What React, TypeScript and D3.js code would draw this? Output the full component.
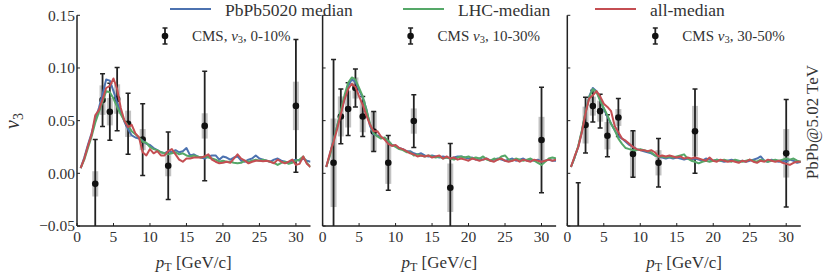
import React from 'react'
import * as d3 from 'd3'

// pT grid of the model curves [GeV/c]
const pT = [
  0.5, 1, 1.5, 2, 2.5, 3, 3.5, 4, 4.5, 5, 5.5, 6, 6.5, 7, 7.5, 8, 8.5, 9, 9.5, 10,
  10.5, 11, 11.5, 12, 12.5, 13, 13.5, 14, 14.5, 15, 15.5, 16, 16.5, 17, 17.5, 18,
  18.5, 19, 19.5, 20, 20.5, 21, 21.5, 22, 22.5, 23, 23.5, 24, 24.5, 25, 25.5, 26,
  26.5, 27, 27.5, 28, 28.5, 29, 29.5, 30, 30.5, 31, 31.5, 32,
]

// 0-10%
const pbpb010 = [
  0.005, 0.015, 0.027, 0.038, 0.051, 0.062, 0.075, 0.089, 0.088, 0.078, 0.067, 0.058, 0.049, 0.042, 0.036, 0.034,
  0.033, 0.031, 0.028, 0.027, 0.024, 0.022, 0.02, 0.019, 0.021, 0.02, 0.022, 0.02, 0.021, 0.024, 0.017, 0.018,
  0.016, 0.015, 0.014, 0.016, 0.017, 0.017, 0.013, 0.016, 0.015, 0.013, 0.015, 0.016, 0.012, 0.011, 0.013, 0.014,
  0.017, 0.014, 0.013, 0.012, 0.011, 0.013, 0.014, 0.012, 0.011, 0.01, 0.012, 0.013, 0.012, 0.014, 0.012, 0.011,
]
const lhc010 = [
  0.005, 0.013, 0.024, 0.035, 0.048, 0.058, 0.068, 0.078, 0.077, 0.071, 0.063, 0.056, 0.05, 0.045, 0.04, 0.037,
  0.034, 0.03, 0.029, 0.025, 0.023, 0.022, 0.02, 0.019, 0.018, 0.019, 0.02, 0.018, 0.019, 0.017, 0.016, 0.017,
  0.016, 0.015, 0.016, 0.015, 0.014, 0.013, 0.011, 0.012, 0.011, 0.011, 0.01, 0.0095, 0.01, 0.012, 0.011, 0.012,
  0.013, 0.012, 0.013, 0.012, 0.011, 0.01, 0.008, 0.01, 0.011, 0.009, 0.01, 0.012, 0.013, 0.016, 0.01, 0.006,
]
const all010 = [
  0.005, 0.014, 0.026, 0.037, 0.055, 0.06, 0.07, 0.081, 0.083, 0.09, 0.08, 0.062, 0.05, 0.044, 0.046, 0.038,
  0.034, 0.02, 0.017, 0.023, 0.019, 0.021, 0.017, 0.017, 0.021, 0.023, 0.018, 0.013, 0.011, 0.014, 0.014, 0.015,
  0.015, 0.015, 0.016, 0.018, 0.013, 0.011, 0.0095, 0.01, 0.011, 0.01, 0.014, 0.018, 0.014, 0.012, 0.0095, 0.011,
  0.012, 0.012, 0.0115, 0.012, 0.011, 0.0095, 0.013, 0.011, 0.0095, 0.011, 0.013, 0.008, 0.009, 0.016, 0.009, 0.006,
]

// 10-30%
const pbpb1030 = [
  0.006, 0.018, 0.032, 0.045, 0.058, 0.071, 0.083, 0.089, 0.087, 0.079, 0.072, 0.061, 0.045, 0.037, 0.036, 0.034,
  0.033, 0.03, 0.027, 0.026, 0.024, 0.023, 0.021, 0.021, 0.019, 0.018, 0.019, 0.017, 0.016, 0.017, 0.016, 0.015,
  0.016, 0.015, 0.014, 0.015, 0.016, 0.016, 0.015, 0.014, 0.015, 0.013, 0.014, 0.013, 0.014, 0.012, 0.013, 0.014,
  0.013, 0.012, 0.013, 0.014, 0.012, 0.013, 0.014, 0.012, 0.013, 0.012, 0.013, 0.011, 0.012, 0.013, 0.012, 0.012,
]
const lhc1030 = [
  0.006, 0.017, 0.031, 0.045, 0.06, 0.074, 0.086, 0.091, 0.089, 0.081, 0.073, 0.06, 0.047, 0.038, 0.035, 0.033,
  0.034, 0.031, 0.027, 0.025, 0.023, 0.022, 0.02, 0.02, 0.017, 0.018, 0.017, 0.016, 0.017, 0.016, 0.015, 0.016,
  0.014, 0.015, 0.014, 0.013, 0.015, 0.016, 0.015, 0.016, 0.014, 0.015, 0.014, 0.016, 0.013, 0.012, 0.014, 0.013,
  0.016, 0.017, 0.013, 0.012, 0.014, 0.013, 0.012, 0.013, 0.014, 0.012, 0.01, 0.008, 0.011, 0.014, 0.015, 0.014,
]
const all1030 = [
  0.006, 0.019, 0.03, 0.042, 0.056, 0.07, 0.08, 0.085, 0.082, 0.073, 0.065, 0.055, 0.046, 0.04, 0.04, 0.035,
  0.032, 0.028, 0.026, 0.027, 0.024, 0.023, 0.021, 0.019, 0.018, 0.016, 0.017, 0.016, 0.017, 0.015, 0.016, 0.017,
  0.014, 0.016, 0.014, 0.015, 0.013, 0.014, 0.013, 0.012, 0.014, 0.013, 0.012, 0.013, 0.014, 0.012, 0.011, 0.013,
  0.014, 0.012, 0.011, 0.012, 0.013, 0.011, 0.013, 0.012, 0.011, 0.013, 0.012, 0.011, 0.012, 0.013, 0.012, 0.013,
]

// 30-50%
const pbpb3050 = [
  0.006, 0.015, 0.025, 0.04, 0.058, 0.073, 0.081, 0.078, 0.07, 0.061, 0.054, 0.047, 0.041, 0.035, 0.033, 0.03,
  0.027, 0.025, 0.023, 0.022, 0.021, 0.02, 0.019, 0.017, 0.016, 0.015, 0.014, 0.015, 0.014, 0.015, 0.014, 0.013,
  0.014, 0.013, 0.014, 0.013, 0.012, 0.014, 0.013, 0.012, 0.013, 0.012, 0.011, 0.012, 0.013, 0.012, 0.011, 0.012,
  0.011, 0.012, 0.013, 0.014, 0.016, 0.012, 0.011, 0.013, 0.012, 0.011, 0.012, 0.011, 0.013, 0.012, 0.01, 0.011,
]
const lhc3050 = [
  0.006, 0.015, 0.026, 0.041, 0.058, 0.072, 0.08, 0.077, 0.069, 0.062, 0.055, 0.047, 0.041, 0.033, 0.028, 0.024,
  0.023, 0.022, 0.022, 0.023, 0.022, 0.021, 0.02, 0.017, 0.016, 0.016, 0.015, 0.016, 0.015, 0.016, 0.017, 0.018,
  0.014, 0.012, 0.011, 0.0095, 0.011, 0.012, 0.011, 0.012, 0.013, 0.012, 0.013, 0.012, 0.011, 0.013, 0.012, 0.011,
  0.012, 0.013, 0.012, 0.011, 0.013, 0.012, 0.011, 0.012, 0.013, 0.012, 0.013, 0.014, 0.013, 0.014, 0.012, 0.011,
]
const all3050 = [
  0.006, 0.016, 0.025, 0.039, 0.057, 0.071, 0.074, 0.078, 0.073, 0.066, 0.063, 0.059, 0.045, 0.039, 0.033, 0.031,
  0.028, 0.025, 0.023, 0.022, 0.022, 0.021, 0.022, 0.02, 0.016, 0.017, 0.016, 0.017, 0.016, 0.015, 0.016, 0.014,
  0.015, 0.014, 0.015, 0.014, 0.013, 0.012, 0.015, 0.012, 0.011, 0.013, 0.012, 0.011, 0.012, 0.011, 0.01, 0.012,
  0.011, 0.013, 0.011, 0.01, 0.012, 0.011, 0.013, 0.012, 0.011, 0.012, 0.01, 0.009, 0.008, 0.01, 0.011, 0.011,
]

// CMS data
const cmsPt010 = [2.5, 3.5, 4.5, 5.5, 7, 9, 12.5, 17.5, 30]
const cmsV010 = [-0.01, 0.0695, 0.0585, 0.0705, 0.047, 0.032, 0.0072, 0.045, 0.064]
const cmsStat010 = [0.042, 0.025, 0.027, 0.03, 0.029, 0.034, 0.032, 0.052, 0.063]
const cmsSys010 = [0.012, 0.014, 0.013, 0.014, 0.0125, 0.01, 0.01, 0.012, 0.023]

const cmsPt1030 = [1.5, 2.5, 3.5, 4.5, 5.5, 7, 9, 12.5, 17.5, 30]
const cmsV1030 = [0.01, 0.054, 0.061, 0.081, 0.054, 0.0397, 0.01, 0.0496, -0.0137, 0.0316]
const cmsStat1030 = [0.098, 0.026, 0.025, 0.018, 0.019, 0.019, 0.026, 0.025, 0.042, 0.05]
const cmsSys1030 = [0.042, 0.019, 0.0175, 0.01, 0.015, 0.019, 0.02, 0.012, 0.023, 0.022]

const cmsPt3050 = [1.5, 2.5, 3.5, 4.5, 5.5, 7, 9, 12.5, 17.5, 30]
const cmsV3050 = [-0.065, 0.0458, 0.0638, 0.059, 0.0357, 0.053, 0.0183, 0.01, 0.04, 0.019]
const cmsStat3050 = [0.056, 0.0265, 0.015, 0.016, 0.02, 0.018, 0.022, 0.023, 0.04, 0.051]
const cmsSys3050 = [0.01, 0.0175, 0.009, 0.01, 0.013, 0.008, 0.022, 0.012, 0.024, 0.023]

const centralityLabels = ['CMS, ', 'CMS ', 'CMS ']
const centralityRanges = ['0-10%', '10-30%', '30-50%']
const seriesNames = ['PbPb5020 median', 'LHC-median', 'all-median']
const colors = ['#4c72b0', '#55a868', '#c44e52']
const yTicks = [-0.05, 0, 0.05, 0.1, 0.15]
const xTicks = [0, 5, 10, 15, 20, 25, 30]

const panels = [
  { curves: [pbpb010, lhc010, all010], pt: cmsPt010, v: cmsV010, stat: cmsStat010, sys: cmsSys010 },
  { curves: [pbpb1030, lhc1030, all1030], pt: cmsPt1030, v: cmsV1030, stat: cmsStat1030, sys: cmsSys1030 },
  { curves: [pbpb3050, lhc3050, all3050], pt: cmsPt3050, v: cmsV3050, stat: cmsStat3050, sys: cmsSys3050 },
]

const W = 830
const H = 277
const panelLeft = [77, 322.6, 567.3]
const panelW = 233.5
const top = 15.3
const bottom = 226
const font = "'Liberation Serif', 'Times New Roman', serif"

const y = d3.scaleLinear().domain([-0.05, 0.15]).range([bottom, top])

const fmtY = (d: number) => (d < 0 ? '\u2212' : '') + Math.abs(d).toFixed(2)

const ErrMarker = ({ cx, cy }: { cx: number; cy: number }) => (
  <g>
    <line x1={cx} x2={cx} y1={cy - 8} y2={cy + 8} stroke="#222" strokeWidth={1.8} />
    <line x1={cx - 2.5} x2={cx + 2.5} y1={cy - 8} y2={cy - 8} stroke="#222" strokeWidth={1.5} />
    <line x1={cx - 2.5} x2={cx + 2.5} y1={cy + 8} y2={cy + 8} stroke="#222" strokeWidth={1.5} />
    <circle cx={cx} cy={cy} r={3.3} fill="#111" />
  </g>
)

const Panel = ({ idx }: { idx: number }) => {
  const p = panels[idx]
  const x0 = panelLeft[idx]
  const x = d3.scaleLinear().domain([0, 32]).range([x0, x0 + panelW])
  const line = d3
    .line<number>()
    .x((_, i) => x(pT[i]))
    .y((d) => y(d))
  const clipId = `clip${idx}`
  const legX = x(0) + 88
  return (
    <g>
      <defs>
        <clipPath id={clipId}>
          <rect x={x0} y={top - 5} width={panelW} height={bottom - top + 5} />
        </clipPath>
      </defs>
      <g clipPath={`url(#${clipId})`}>
        {p.pt.map((d, i) => (
          <rect
            key={'s' + i}
            x={x(d) - 3}
            width={6}
            y={y(p.v[i] + p.sys[i])}
            height={y(p.v[i] - p.sys[i]) - y(p.v[i] + p.sys[i])}
            fill="#9a9a9a"
            opacity={0.6}
          />
        ))}
        {p.pt.map((d, i) => (
          <g key={'e' + i} stroke="#222">
            <line x1={x(d)} x2={x(d)} y1={y(p.v[i] + p.stat[i])} y2={y(p.v[i] - p.stat[i])} strokeWidth={1.8} />
            <line x1={x(d) - 2.5} x2={x(d) + 2.5} y1={y(p.v[i] + p.stat[i])} y2={y(p.v[i] + p.stat[i])} strokeWidth={1.5} />
            <line x1={x(d) - 2.5} x2={x(d) + 2.5} y1={y(p.v[i] - p.stat[i])} y2={y(p.v[i] - p.stat[i])} strokeWidth={1.5} />
            <circle cx={x(d)} cy={y(p.v[i])} r={3.3} fill="#111" stroke="none" />
          </g>
        ))}
        {p.curves.map((c, k) => (
          <path key={'c' + k} d={line(c) || ''} fill="none" stroke={colors[k]} strokeWidth={2} strokeLinejoin="round" />
        ))}
      </g>
      {/* axes */}
      <line x1={x0} x2={x0} y1={top} y2={bottom} stroke="#222" strokeWidth={1.5} />
      <line x1={x0} x2={x0 + panelW} y1={bottom} y2={bottom} stroke="#222" strokeWidth={1.5} />
      {yTicks.map((t) => (
        <line key={'yt' + t} x1={x0} x2={x0 + 3} y1={y(t)} y2={y(t)} stroke="#222" strokeWidth={1} />
      ))}
      {xTicks.map((t) => (
        <g key={'xt' + t}>
          <line x1={x(t)} x2={x(t)} y1={bottom} y2={bottom - 3} stroke="#222" strokeWidth={1} />
          <text x={x(t)} y={242} textAnchor="middle" fontSize={15.5} fill="#333">
            {t}
          </text>
        </g>
      ))}
      {idx === 0 &&
        yTicks.map((t) => (
          <text key={'yl' + t} x={x0 - 2} y={y(t)} dy="0.34em" textAnchor="end" fontSize={15.5} fill="#333">
            {fmtY(t)}
          </text>
        ))}
      <text x={x0 + panelW / 2} y={268} textAnchor="middle" fontSize={17} fill="#333">
        <tspan fontStyle="italic">p</tspan>
        <tspan fontSize={12} dy={3}>T</tspan>
        <tspan dy={-3}> [GeV/c]</tspan>
      </text>
      <ErrMarker cx={legX} cy={36} />
      <text x={legX + 27} y={40.5} fontSize={15} fill="#333">
        {centralityLabels[idx]}
        <tspan fontStyle="italic">v</tspan>
        <tspan fontSize={10.5} dy={2.5}>3</tspan>
        <tspan dy={-2.5}>, {centralityRanges[idx]}</tspan>
      </text>
    </g>
  )
}

const legendX = [170, 403, 595]

export default function App() {
  return (
    <div style={{ position: 'fixed', left: 0, top: 0 }}>
      <svg width={W} height={H} fontFamily={font} style={{ display: 'block', background: '#fff' }}>
        {panels.map((_, i) => (
          <Panel key={i} idx={i} />
        ))}
        {seriesNames.map((n, k) => (
          <g key={n}>
            <line x1={legendX[k]} x2={legendX[k] + 41} y1={9} y2={9} stroke={colors[k]} strokeWidth={2} />
            <text x={legendX[k] + 55} y={16} fontSize={17.5} fill="#333">
              {n}
            </text>
          </g>
        ))}
        <text transform="translate(19,121) rotate(-90)" textAnchor="middle" fontSize={20} fill="#333">
          <tspan fontStyle="italic">v</tspan>
          <tspan fontSize={14} dy={4}>3</tspan>
        </text>
        <text transform="translate(818,122) rotate(-90)" textAnchor="middle" fontSize={17} fill="#333">
          PbPb@5.02 TeV
        </text>
      </svg>
    </div>
  )
}
